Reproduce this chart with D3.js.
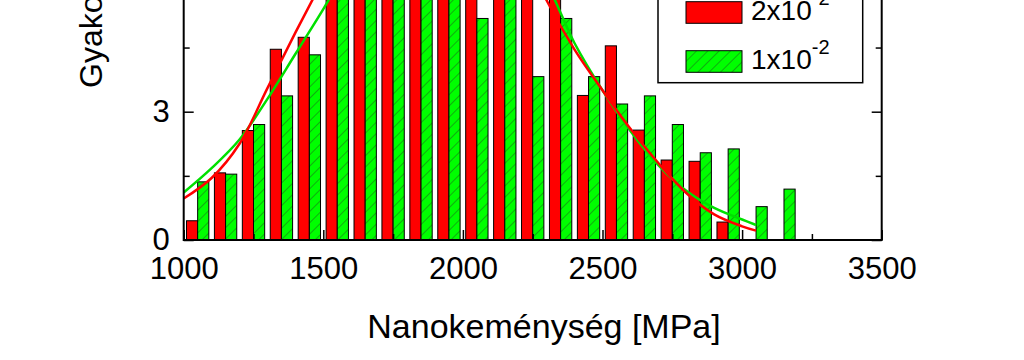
<!DOCTYPE html>
<html>
<head>
<meta charset="utf-8">
<script src="https://cdn.jsdelivr.net/npm/d3@7"></script>
<style>
  body { margin: 0; background: #fff; }
  svg { display: block; font-family: "Liberation Sans", Arial, sans-serif; }
</style>
</head>
<body>
<svg id="svg" width="1024" height="360"></svg>
<script>
// bin centres [MPa]
const bins = [1050, 1150, 1250, 1350, 1450, 1550, 1650, 1750, 1850, 1950, 2050,
              2150, 2250, 2350, 2450, 2550, 2650, 2750, 2850, 2950, 3050, 3150];
// 2x10^-2 series (red), values above ~5.6 are cut off in the picture, estimated
const redVals = [0.45, 1.57, 2.56, 4.46, 4.74, 6.3, 7.6, 8.8, 9.6, 8.9, 9.3,
                 8.0, 7.2, 6.1, 3.38, 4.54, 2.57, 1.87, 1.84, 0.42, 0, 0];
// 1x10^-2 series (green)
const greenVals = [1.36, 1.54, 2.70, 3.37, 4.33, 6.0, 7.0, 7.8, 8.2, 7.5, 5.18,
                   7.2, 3.82, 5.18, 3.82, 3.18, 3.37, 2.70, 2.04, 2.13, 0.78, 1.19];
// fitted curves
const fitX = [1000, 1100, 1200, 1300, 1400, 1500, 1600, 1700, 1800, 1900, 2000,
              2100, 2200, 2300, 2400, 2500, 2600, 2700, 2800, 2900, 3000, 3050];
const redFit = [0.97, 1.45, 2.25, 3.55, 4.85, 6.1, 7.3, 8.3, 8.9, 9.1, 8.9,
                8.2, 7.0, 5.6, 4.45, 3.5, 2.6, 1.8, 1.1, 0.6, 0.32, 0.22];
const greenFit = [1.11, 1.68, 2.35, 3.3, 4.35, 5.4, 6.5, 7.4, 8.0, 8.3, 8.3,
                  7.9, 7.0, 6.0, 4.6, 3.5, 2.55, 1.75, 1.15, 0.75, 0.48, 0.35];
const xTicks = [1000, 1500, 2000, 2500, 3000, 3500];
const xMinor = [1250, 1750, 2250, 2750, 3250];
const yTicks = [0, 3];
const yMinor = [1.5, 4.5];

const left = 183.7, right = 881.7, bottom = 240;
const svg = d3.select('#svg');

const x = d3.scaleLinear().domain([1000, 3500]).range([left, right]);
const y = d3.scaleLinear().domain([0, 3]).range([bottom, 111.7]);

// hatch for the green bars
const defs = svg.append('defs');
const pat = defs.append('pattern').attr('id', 'hatch')
    .attr('patternUnits', 'userSpaceOnUse').attr('width', 8).attr('height', 8)
    .attr('patternTransform', 'rotate(45)');
pat.append('rect').attr('width', 8).attr('height', 8).attr('fill', '#00ff00');
pat.append('line').attr('x1', 0).attr('y1', 0).attr('x2', 0).attr('y2', 8)
    .attr('stroke', '#1a6a1a').attr('stroke-width', 1.1);

const halfW = 40; // bar width in MPa

svg.append('g').selectAll('rect').data(bins).join('rect')
    .attr('x', (d) => x(d - halfW))
    .attr('width', (d) => x(d) - x(d - halfW))
    .attr('y', (d, i) => y(redVals[i]))
    .attr('height', (d, i) => y(0) - y(redVals[i]))
    .attr('fill', '#ff0000')
    .attr('stroke', '#000').attr('stroke-width', 1)
    .attr('display', (d, i) => redVals[i] > 0 ? null : 'none');

svg.append('g').selectAll('rect').data(bins).join('rect')
    .attr('x', (d) => x(d))
    .attr('width', (d) => x(d + halfW) - x(d))
    .attr('y', (d, i) => y(greenVals[i]))
    .attr('height', (d, i) => y(0) - y(greenVals[i]))
    .attr('fill', 'url(#hatch)')
    .attr('stroke', '#000').attr('stroke-width', 1);

const line = (vals) => d3.line()
    .x((d) => x(d))
    .y((d, i) => y(vals[i]))
    .curve(d3.curveCatmullRom)(fitX);

svg.append('path').attr('d', line(greenFit))
    .attr('fill', 'none').attr('stroke', '#00e000').attr('stroke-width', 2.5);
svg.append('path').attr('d', line(redFit))
    .attr('fill', 'none').attr('stroke', '#ff0000').attr('stroke-width', 2.5);

// axes, ticks pointing inwards
const tickStyle = (g) => {
    g.select('.domain').remove();
    g.selectAll('line').attr('stroke', '#000').attr('stroke-width', 1.5);
    g.selectAll('text').attr('font-size', 31).attr('fill', '#000')
        .attr('font-family', '"Liberation Sans", Arial, sans-serif');
};
const fmt = d3.format('d');

svg.append('g').attr('transform', 'translate(0,' + bottom + ')')
    .call(d3.axisBottom(x).tickValues(xTicks).tickSize(-10).tickPadding(17).tickFormat(fmt))
    .call(tickStyle);
svg.append('g').attr('transform', 'translate(0,' + bottom + ')')
    .call(d3.axisBottom(x).tickValues(xMinor).tickSize(-6).tickFormat(''))
    .call(tickStyle);

svg.append('g').attr('transform', 'translate(' + left + ',0)')
    .call(d3.axisLeft(y).tickValues(yTicks).tickSize(-10).tickPadding(14).tickFormat(fmt))
    .call(tickStyle);
svg.append('g').attr('transform', 'translate(' + left + ',0)')
    .call(d3.axisLeft(y).tickValues(yMinor).tickSize(-6).tickFormat(''))
    .call(tickStyle);
svg.append('g').attr('transform', 'translate(' + right + ',0)')
    .call(d3.axisRight(y).tickValues(yTicks).tickSize(-10).tickFormat(''))
    .call(tickStyle);
svg.append('g').attr('transform', 'translate(' + right + ',0)')
    .call(d3.axisRight(y).tickValues(yMinor).tickSize(-6).tickFormat(''))
    .call(tickStyle);

// frame
svg.append('path')
    .attr('d', 'M' + left + ',-20V' + bottom + 'H' + right + 'V-20')
    .attr('fill', 'none').attr('stroke', '#000').attr('stroke-width', 2);

// axis titles
svg.append('text').attr('x', 544).attr('y', 338)
    .attr('text-anchor', 'middle').attr('font-size', 34)
    .text('Nanokeménység [MPa]');
svg.append('text')
    .attr('transform', 'translate(102,88) rotate(-90)')
    .attr('font-size', 32)
    .text('Gyakoriság');

// legend (top part is cut off in the picture)
const legend = svg.append('g');
legend.append('rect').attr('x', 658).attr('y', -60).attr('width', 204.7).attr('height', 142.7)
    .attr('fill', '#fff').attr('stroke', '#000').attr('stroke-width', 1.5);
const entries = [
    { label: '2x10', sup: '-2', fill: '#ff0000', top: 1.7 },
    { label: '1x10', sup: '-2', fill: 'url(#hatch)', top: 50.7 }
];
entries.forEach((e) => {
    legend.append('rect').attr('x', 686).attr('y', e.top).attr('width', 56).attr('height', 21.6)
        .attr('fill', e.fill).attr('stroke', '#000').attr('stroke-width', 1);
    const t = legend.append('text').attr('x', 751).attr('y', e.top + 18.5).attr('font-size', 28);
    t.append('tspan').text(e.label);
    t.append('tspan').attr('font-size', 20).attr('dy', -15).text(e.sup);
});
</script>
</body>
</html>
